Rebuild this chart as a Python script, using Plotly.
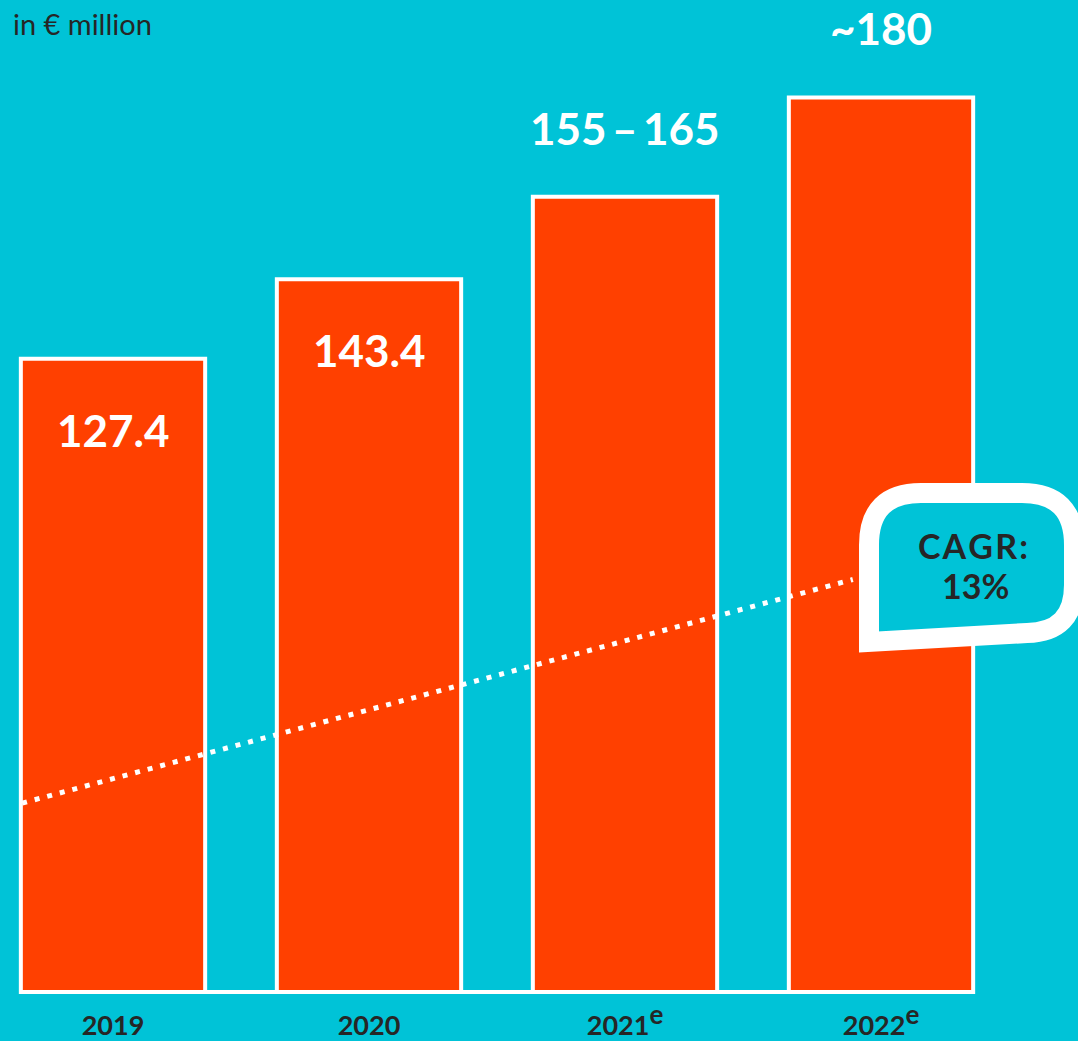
import plotly.graph_objects as go

# Revenue in € million
years = ["2019", "2020",
         "2021<sup><span style='font-size:26px'>e</span></sup>",
         "2022<sup><span style='font-size:26px'>e</span></sup>"]
actual_low = [127.4, 143.4, 155, 180]
actual_high = [127.4, 143.4, 165, 180]
value_labels = ["127.4", "143.4", "155\u2009–\u2009165", "~180"]
label_inside = [True, True, False, False]

# CAGR trend line (decorative, in axis units)
trend_x = [-0.355, 2.89]
trend_y = [38, 83]
cagr_lines = ["C\u200aA\u200aG\u200aR\u200a:", "13%"]

# bar heights: midpoint of each guidance range
values = [(lo + hi) / 2 for lo, hi in zip(actual_low, actual_high)]

BG = "#00C3D7"
BAR = "#FF4000"
DARK = "#262626"
FONT = "Lato"

W, H = 1078, 1041
M_B = 40
PLOT_H = H - M_B
ZERO_PX = 992
PX_PER_UNIT = 4.97
BAR_W = 0.72

fig = go.Figure()

fig.add_trace(go.Bar(
    x=list(range(len(years))),
    y=values,
    width=BAR_W,
    marker=dict(color=BAR, line=dict(color="white", width=4)),
    hoverinfo="skip",
))

fig.add_trace(go.Scatter(
    x=trend_x,
    y=trend_y,
    mode="lines",
    line=dict(color="white", width=5, dash="5px,8px"),
    hoverinfo="skip",
))

# value labels: inside the bar near the top, or above it
for i, (v, txt, inside) in enumerate(zip(values, value_labels, label_inside)):
    fig.add_annotation(
        x=i, y=v, text=txt, showarrow=False,
        yshift=-71 if inside else 69,
        font=dict(family=FONT, size=44, color="white", weight="bold"),
        xanchor="center", yanchor="middle",
    )

# baseline spanning the bars
fig.add_shape(type="line", xref="x", yref="y",
              x0=-BAR_W / 2, x1=len(years) - 1 + BAR_W / 2, y0=0, y1=0,
              line=dict(color="white", width=4))


def px(xp, yp):
    """pixel position -> paper coordinates"""
    return xp / W, 1 - yp / PLOT_H


def pt(xp, yp):
    a, b = px(xp, yp)
    return f"{a:.5f},{b:.5f}"


# speech bubble for the CAGR callout
bubble = (
    f"M {pt(869, 642)} "
    f"L {pt(869, 545)} "
    f"Q {pt(869, 493)} {pt(921, 493)} "
    f"L {pt(1022, 493)} "
    f"Q {pt(1074, 493)} {pt(1074, 545)} "
    f"L {pt(1074, 585)} "
    f"Q {pt(1074, 632)} {pt(1027, 633)} "
    f"Z"
)
fig.add_shape(type="path", xref="paper", yref="paper", path=bubble,
              fillcolor=BG, line=dict(color="white", width=20), layer="above")

for txt, (lx, ly) in zip(cagr_lines, [(973, 545), (975, 585)]):
    cx, cy = px(lx, ly)
    fig.add_annotation(
        xref="paper", yref="paper", x=cx, y=cy, text=txt, showarrow=False,
        font=dict(family=FONT, size=34, color=DARK, weight="bold"),
        xanchor="center", yanchor="middle",
    )

fig.update_layout(
    width=W, height=H,
    margin=dict(l=0, r=0, t=0, b=M_B, autoexpand=False),
    paper_bgcolor=BG, plot_bgcolor=BG,
    showlegend=False,
    title=dict(text="in € million", xref="container", yref="container",
               x=13 / W, y=1 - 25 / H, xanchor="left", yanchor="middle",
               font=dict(family=FONT, size=29, color=DARK)),
    xaxis=dict(
        range=[-113 / 256, (W - 113) / 256],
        tickmode="array", tickvals=list(range(len(years))), ticktext=years,
        tickfont=dict(family=FONT, size=27, color=DARK, weight="bold"),
        showgrid=False, zeroline=False, showline=False, ticks="",
        ticklabelstandoff=6, automargin=False, fixedrange=True,
    ),
    yaxis=dict(
        range=[-(PLOT_H - ZERO_PX) / PX_PER_UNIT, ZERO_PX / PX_PER_UNIT],
        visible=False, showgrid=False, zeroline=False, fixedrange=True,
    ),
)

fig.write_html("out.html", config={"displayModeBar": False})
